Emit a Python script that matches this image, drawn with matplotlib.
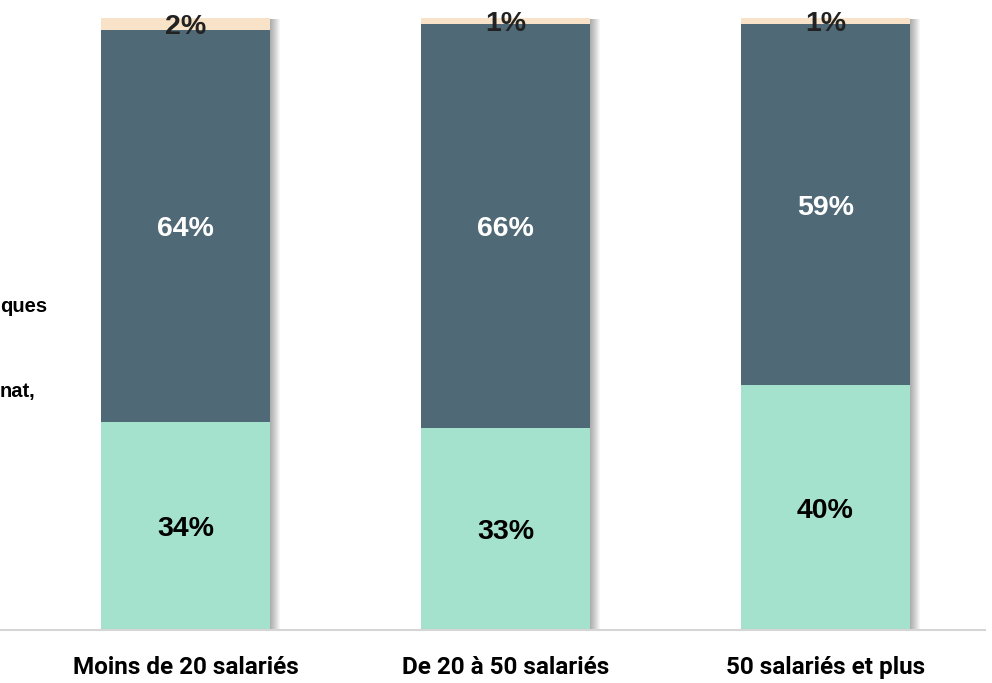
import matplotlib
matplotlib.use('Agg')

import matplotlib.pyplot as plt

plt.rcParams['font.family'] = ['Roboto', 'DejaVu Sans']

categories = ['Moins de 20 salariés', 'De 20 à 50 salariés', '50 salariés et plus']
bottomVals = [34, 33, 40]
middleVals = [64, 66, 59]
topVals = [2, 1, 1]
sideLabels = ['ques', 'nat,']

GREEN = '#A5E2CE'
SLATE = '#4F6977'
SAND = '#F8E3C8'
LABEL_FONT = ['Liberation Sans', 'DejaVu Sans']

W, H, DPI = 992, 683, 100
fig = plt.figure(figsize=(W / DPI, H / DPI), dpi=DPI)

# axes: x spans pixels 0..985, baseline at pixel row 630
ax = fig.add_axes([0, 53 / H, 985 / W, 630 / H])
px = 1 / 320.0
ax.set_xlim(-185.5 * px, (985 - 185.5) * px)
ax.set_ylim(0, 630 / 6.12)

xs = range(len(categories))
width = 169 * px
totals = [b + m + t for b, m, t in zip(bottomVals, middleVals, topVals)]

# soft drop shadow on the right of each bar
for k in range(1, 11):
  ax.bar([x + k * px for x in xs], totals, width=width, bottom=[-0.15] * 3,
         color='black', alpha=0.035, linewidth=0, zorder=1)

ax.bar(xs, bottomVals, width=width, color=GREEN, linewidth=0, zorder=2)
ax.bar(xs, middleVals, width=width, bottom=bottomVals, color=SLATE,
       linewidth=0, zorder=2)
mids = [b + m for b, m in zip(bottomVals, middleVals)]
ax.bar(xs, topVals, width=width, bottom=mids, color=SAND, linewidth=0, zorder=2)

# small downward nudge so the digits sit where they should visually
dy = -0.5
for x, b, m, t in zip(xs, bottomVals, middleVals, topVals):
  ax.text(x, b / 2.0 + dy, '%d%%' % b, ha='center', va='center', fontsize=20.5,
          fontweight='bold', color='black', family=LABEL_FONT, zorder=3)
  ax.text(x, b + m / 2.0 + dy, '%d%%' % m, ha='center', va='center',
          fontsize=20.5, fontweight='bold', color='white', family=LABEL_FONT,
          zorder=3)
  ax.text(x, b + m + t / 2.0 + dy, '%d%%' % t, ha='center', va='center',
          fontsize=20.5, fontweight='bold', color='#222222', family=LABEL_FONT,
          zorder=3)

for spine in ['top', 'right', 'left']:
  ax.spines[spine].set_visible(False)
ax.spines['bottom'].set_color('#D5D5D5')
ax.spines['bottom'].set_linewidth(1.5)
ax.set_yticks([])
ax.set_xticks(list(xs))
ax.set_xticklabels(categories, fontsize=17.5, fontweight='bold')
ax.tick_params(axis='x', length=0, pad=19)

fig.text(0, 1 - 306 / H, sideLabels[0], ha='left', va='center', fontsize=14.5,
         fontweight='bold', family=LABEL_FONT)
fig.text(0, 1 - 392 / H, sideLabels[1], ha='left', va='center', fontsize=14.5,
         fontweight='bold', family=LABEL_FONT)

fig.savefig('out.png', dpi=DPI)
